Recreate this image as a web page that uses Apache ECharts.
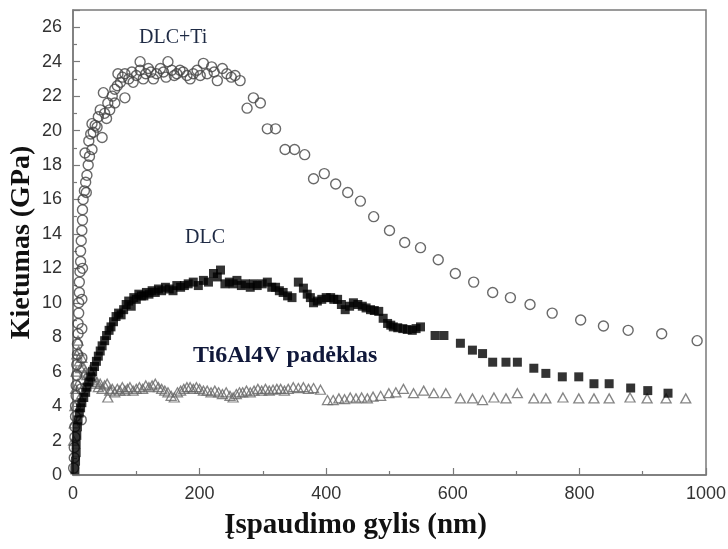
<!DOCTYPE html>
<html><head><meta charset="utf-8">
<script src="https://cdn.jsdelivr.net/npm/echarts@6/dist/echarts.min.js"></script>
<style>html,body{margin:0;padding:0;background:#fff}#c{width:728px;height:549px}</style>
</head><body><div id="c"></div>
<script>
// Depth (nm), hardness (GPa)
const xTicks = [0, 200, 400, 600, 800, 1000];
const yTicks = [0,2,4,6,8,10,12,14,16,18,20,22,24,26];
const seriesNames = ['DLC+Ti', 'DLC', 'Ti6Al4V padėklas'];

const dlcTi = [
[1,0.4],[2,1.0],[2,1.6],[3,2.2],[3,2.8],[4,3.4],[4,4.0],[5,4.6],[5,5.2],[6,5.8],[6,6.4],[7,7.0],[7,7.6],[8,8.2],[8,8.8],[9,9.4],[9,10.0],[10,10.6],[10,11.2],[11,11.8],[12,12.4],[12,13.0],[13,13.6],[14,14.2],[15,14.8],[15,15.4],[16,16.0],[18,16.5],
[13,3.2],[13,5.0],[14,6.8],[14,8.5],[14,10.2],[15,12.0],
[21,16.4],[20,17.0],[22,17.4],[24,18.0],[19,18.7],[26,18.5],[30,18.9],[25,19.4],[28,19.8],[32,19.9],[35,20.3],[46,19.6],[30,20.4],[38,20.2],[40,20.8],[43,21.2],[50,21.0],[53,20.7],[48,22.2],[55,21.6],[58,21.2],[62,22.0],[66,21.6],[66,22.4],[70,22.6],[75,22.8],[82,21.9],[71,23.3],[78,23.1],[82,23.3],[88,23.0],[93,23.4],[95,22.8],[100,23.2],[106,23.5],[106,24.0],[111,23.0],[115,23.3],[119,23.6],[123,23.4],[127,23.0],[132,23.3],[138,23.6],[143,23.4],[147,23.1],[150,24.0],[156,23.5],[160,23.2],[164,23.3],[169,23.5],[174,23.4],[180,23.2],[185,23.0],[190,23.3],[196,23.5],[201,23.2],[206,23.9],[212,23.3],[219,23.7],[223,23.4],[228,22.9],[236,23.6],[243,23.3],[250,23.1],[256,23.2],[264,22.9],
[275,21.3],[285,21.9],[296,21.6],[307,20.1],[320,20.1],[335,18.9],[350,18.9],[366,18.6],[380,17.2],[397,17.5],[415,16.9],[434,16.4],[454,15.9],[475,15.0],[500,14.2],[524,13.5],[549,13.2],[577,12.5],[604,11.7],[633,11.2],[663,10.6],[691,10.3],[722,9.9],[757,9.4],[802,9.0],[838,8.65],[877,8.4],[930,8.2],[986,7.8]
];

const dlc = [
[3,0.3],[4,0.8],[5,1.3],[5,1.8],[6,2.3],[7,2.8],[8,3.2],[10,3.6],[12,3.9],[14,4.2],[17,4.5],[20,4.8],[22,5.1],[25,5.4],[28,5.7],[31,6.0],[34,6.3],[37,6.6],[40,6.9],[43,7.2],[46,7.5],[50,7.8],[53,8.1],[57,8.4],[60,8.6],[64,8.9],[68,9.2],[72,9.4],[76,9.3],[80,9.6],[84,9.9],[88,10.1],[92,9.8],[96,10.3],[100,10.2],[104,10.5],[108,10.4],[112,10.4],[116,10.6],[120,10.5],[125,10.7],[130,10.6],[135,10.8],[140,10.7],[146,10.9],[152,10.8],[158,10.7],[164,11.0],[170,10.9],[176,11.0],[182,11.1],[190,11.2],[198,11.0],[206,11.3],[214,11.2],[222,11.7],[228,11.5],[233,11.9],[240,11.1],[247,11.2],[253,11.1],[259,11.3],[266,11.0],[272,11.1],[280,10.9],[285,11.1],[291,11.0],[299,11.1],[307,11.2],[314,10.9],[320,10.9],[326,10.7],[332,10.6],[339,10.4],[346,10.3],[356,11.2],[364,10.85],[370,10.5],[375,10.3],[380,10.0],[386,10.1],[393,10.2],[400,10.3],[407,10.3],[412,10.2],[418,10.2],[424,9.9],[430,9.6],[437,9.8],[443,10.0],[450,9.9],[457,9.8],[463,9.7],[470,9.6],[476,9.55],[483,9.5],[490,9.1],[497,8.8],[502,8.7],[506,8.6],[513,8.55],[521,8.5],[528,8.45],[536,8.4],[542,8.5],[549,8.6],
[572,8.1],[586,8.1],[612,7.65],[631,7.25],[647,7.05],[663,6.55],[684,6.55],[702,6.55],[728,6.2],[747,5.9],[773,5.7],[799,5.7],[823,5.3],[847,5.3],[881,5.05],[908,4.9],[940,4.75]
];

const ti6al4v = [
[1,2.0],[2,3.0],[3,4.0],[4,5.0],[5,6.0],[6,7.0],[8,7.8],[9,7.2],[10,6.6],[11,4.5],[8,5.3],[12,6.2],[14,6.8],[16,6.3],[18,5.9],[20,6.0],[22,5.8],[25,5.6],[27,6.1],[30,5.5],[32,5.7],[35,5.3],[38,5.4],[40,5.1],[43,5.3],[46,5.0],[50,5.2],[54,5.3],[55,4.5],[58,4.9],[62,5.0],[66,4.8],[70,5.0],[74,4.9],[78,5.1],[82,4.9],[86,5.0],[90,5.1],[95,4.9],[100,5.0],[105,5.1],[110,5.0],[115,5.2],[120,5.1],[125,5.2],[130,5.3],[135,5.1],[140,5.0],[145,4.9],[150,4.8],[155,4.6],[160,4.5],[165,4.8],[170,4.9],[175,5.0],[180,5.1],[185,5.1],[190,5.0],[195,5.1],[200,5.0],[206,4.9],[212,4.9],[218,4.8],[224,4.9],[230,4.8],[236,4.7],[242,4.8],[248,4.6],[253,4.5],[258,4.7],[263,4.8],[268,4.8],[274,4.9],[280,4.8],[286,4.9],[292,5.0],[298,4.9],[304,5.0],[310,4.9],[316,4.95],[322,5.0],[328,5.0],[334,4.9],[340,5.0],[348,5.1],[356,5.05],[364,5.1],[372,5.0],[380,5.05],[391,4.95],
[402,4.35],[411,4.35],[420,4.45],[429,4.4],[438,4.5],[447,4.45],[456,4.5],[465,4.45],[474,4.55],[486,4.6],[499,4.75],[510,4.8],[522,5.0],[538,4.75],[554,4.9],[570,4.75],[589,4.75],
[612,4.45],[631,4.45],[647,4.35],[665,4.5],[684,4.45],[702,4.75],[728,4.45],[747,4.45],[774,4.5],[799,4.45],[823,4.45],[847,4.45],[880,4.5],[907,4.45],[937,4.45],[968,4.45]
];

const chart = echarts.init(document.getElementById('c'), null, {renderer: 'canvas'});
const axisColor = '#7a7a7a';
const labelFont = {fontFamily: 'Liberation Sans, Arial, sans-serif', fontSize: 18, color: '#333'};
const titleFont = {fontFamily: 'Liberation Serif, Times New Roman, serif', fontWeight: 'bold', color: '#111'};

chart.setOption({
  animation: false,
  backgroundColor: '#fff',
  grid: {left: 73, right: 22, top: 10, bottom: 74, show: true, borderColor: axisColor, borderWidth: 1.5, containLabel: false, outerBoundsMode: 'none'},
  xAxis: {
    type: 'value', min: xTicks[0], max: xTicks[xTicks.length-1], interval: 200,
    name: 'Įspaudimo gylis (nm)', nameLocation: 'middle', nameGap: 36, nameMoveOverlap: false,
    nameTextStyle: Object.assign({fontSize: 29, padding: [0, 68, 0, 0]}, titleFont),
    axisLine: {lineStyle: {color: axisColor, width: 1.5}},
    axisTick: {inside: true, length: 7, lineStyle: {color: axisColor, width: 1.2}},
    minorTick: {show: true, splitNumber: 2, length: 4, lineStyle: {color: axisColor, width: 1.2}},
    splitLine: {show: false},
    axisLabel: Object.assign({margin: 10, formatter: v => String(v)}, labelFont)
  },
  yAxis: {
    type: 'value', min: 0, max: 27, interval: 2,
    name: 'Kietumas (GPa)', nameLocation: 'middle', nameGap: 37, nameMoveOverlap: false,
    nameTextStyle: Object.assign({fontSize: 28}, titleFont),
    axisLine: {show: true, lineStyle: {color: axisColor, width: 1.5}},
    axisTick: {inside: true, length: 7, lineStyle: {color: axisColor, width: 1.2}},
    minorTick: {show: true, splitNumber: 2, length: 4, lineStyle: {color: axisColor, width: 1.2}},
    splitLine: {show: false},
    axisLabel: Object.assign({margin: 11, showMaxLabel: false, formatter: v => (yTicks.indexOf(v) >= 0 ? String(v) : '')}, labelFont)
  },
  series: [
    {name: seriesNames[2], type: 'scatter', data: ti6al4v, symbol: 'triangle', symbolSize: [10, 9],
     itemStyle: {color: 'rgba(255,255,255,0)', borderColor: '#666', borderWidth: 1.3}, z: 2},
    {name: seriesNames[0], type: 'scatter', data: dlcTi, symbol: 'circle', symbolSize: 10,
     itemStyle: {color: 'rgba(255,255,255,0)', borderColor: '#444', borderWidth: 1.4}, z: 3},
    {name: seriesNames[1], type: 'scatter', data: dlc, symbol: 'rect', symbolSize: 9,
     itemStyle: {color: '#000'}, z: 4}
  ],
  graphic: [
    {type: 'text', left: 139, top: 28, style: {text: seriesNames[0], font: '20px "Liberation Serif", serif', fill: '#1e2a44'}},
    {type: 'text', left: 185, top: 228, style: {text: seriesNames[1], font: '20px "Liberation Serif", serif', fill: '#1e2a44'}},
    {type: 'text', left: 193, top: 344, style: {text: seriesNames[2], font: 'bold 24px "Liberation Serif", serif', fill: '#10183a'}}
  ]
});
</script></body></html>
